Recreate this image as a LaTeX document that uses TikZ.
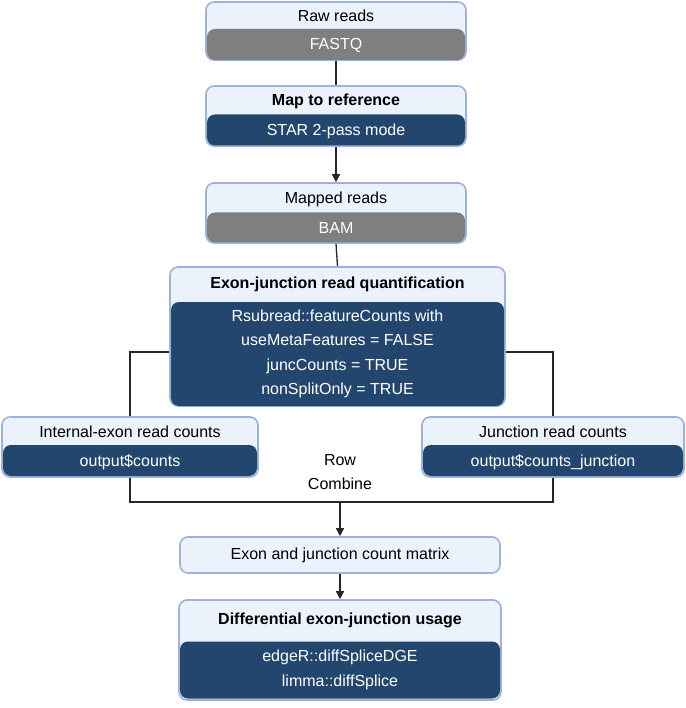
\documentclass[tikz,border=0pt]{standalone}
\usepackage{fontspec}
\setmainfont{Liberation Sans}
\usetikzlibrary{arrows.meta}
\definecolor{lite}{HTML}{EBF2FB}
\definecolor{frame}{HTML}{9DB3DD}
\definecolor{dark}{HTML}{23466F}
\definecolor{gry}{HTML}{7F7F7F}
\begin{document}
\begin{tikzpicture}[x=1pt,y=-1pt,
 outer/.style={draw=frame,line width=1.6pt,fill=lite,rounded corners=8pt,inner sep=0pt},
 inner/.style={fill=#1,rounded corners=8pt,inner sep=0pt},
 ttl/.style={font=\fontsize{16}{19}\selectfont,text=black,align=center},
 sub/.style={font=\fontsize{16}{19}\selectfont,text=white,align=center},
 con/.style={line width=1.3pt,draw=black!85},
 arr/.style={con,-{Triangle[length=8pt,width=8pt]}}]
\useasboundingbox (0,0) rectangle (685,708);
% box 1
\node[outer,minimum width=260,minimum height=58] (b1) at (336,31) {};
\node[inner=gry,minimum width=258,minimum height=31] (b1d) at (336,44.5) {};
\node[ttl] (t1) at (336,16) {Raw reads};
\node[sub] (s1) at (336,45) {FASTQ};
% box 2
\node[outer,minimum width=260,minimum height=60] (b2) at (336,116) {};
\node[inner=dark,minimum width=258,minimum height=31] (b2d) at (336,130) {};
\node[ttl,font=\fontsize{16}{19}\selectfont\bfseries] (t2) at (336,101) {Map to reference};
\node[sub] (s2) at (336,131) {STAR 2-pass mode};
% box 3
\node[outer,minimum width=260,minimum height=60] (b3) at (336,213) {};
\node[inner=gry,minimum width=258,minimum height=30] (b3d) at (336,227.5) {};
\node[ttl] (t3) at (336,199) {Mapped reads};
\node[sub] (s3) at (336,228) {BAM};
% box 4
\node[outer,minimum width=335,minimum height=139] (b4) at (337.5,336.5) {};
\node[inner=dark,minimum width=333,minimum height=104] (b4d) at (337.5,354) {};
\node[ttl,font=\fontsize{16}{19}\selectfont\bfseries] (t4) at (337.5,284) {Exon-junction read quantification};
\node[sub,font=\fontsize{16}{24.5}\selectfont] (s4) at (337.5,354) {Rsubread::featureCounts with\\useMetaFeatures = FALSE\\juncCounts = TRUE\\nonSplitOnly = TRUE};
% left/right
\node[outer,minimum width=256,minimum height=60] (bl) at (130,447) {};
\node[inner=dark,minimum width=254,minimum height=31] (bld) at (130,460.5) {};
\node[ttl] (tl) at (130,432) {Internal-exon read counts};
\node[sub] (sl) at (130,462) {output\$counts};
\node[outer,minimum width=262,minimum height=60] (br) at (553,447) {};
\node[inner=dark,minimum width=260,minimum height=31] (brd) at (553,460.5) {};
\node[ttl] (tr) at (553,432) {Junction read counts};
\node[sub] (sr) at (553,462) {output\$counts\_junction};
\node[ttl,align=center,font=\fontsize{16}{24}\selectfont] (rc) at (340,472) {Row\\Combine};
% box 5
\node[outer,minimum width=320,minimum height=36] (b5) at (340,555) {};
\node[ttl] (t5) at (340,555) {Exon and junction count matrix};
% box 6
\node[outer,minimum width=322,minimum height=100] (b6) at (340,650) {};
\node[inner=dark,minimum width=320,minimum height=57] (b6d) at (340,670) {};
\node[ttl,font=\fontsize{16}{19}\selectfont\bfseries] (t6) at (340,620) {Differential exon-junction usage};
\node[sub,font=\fontsize{16}{24.5}\selectfont] (s6) at (340,670) {edgeR::diffSpliceDGE\\limma::diffSplice};
% connectors
\coordinate (jn) at (340,502);
\draw[con] (b1.south) -- (b2.north);
\draw[arr] (b2.south) -- (b3.north);
\draw[con] (b3.south) -- (b4.north);
\draw[con] (b4.west |- 0,352) -| (bl.north);
\draw[con] (b4.east |- 0,352) -| (br.north);
\draw[con] (bl.south) |- (jn) -| (br.south);
\draw[arr] (jn) -- (b5.north);
\draw[arr] (b5.south) -- (b6.north);
\end{tikzpicture}
\end{document}
